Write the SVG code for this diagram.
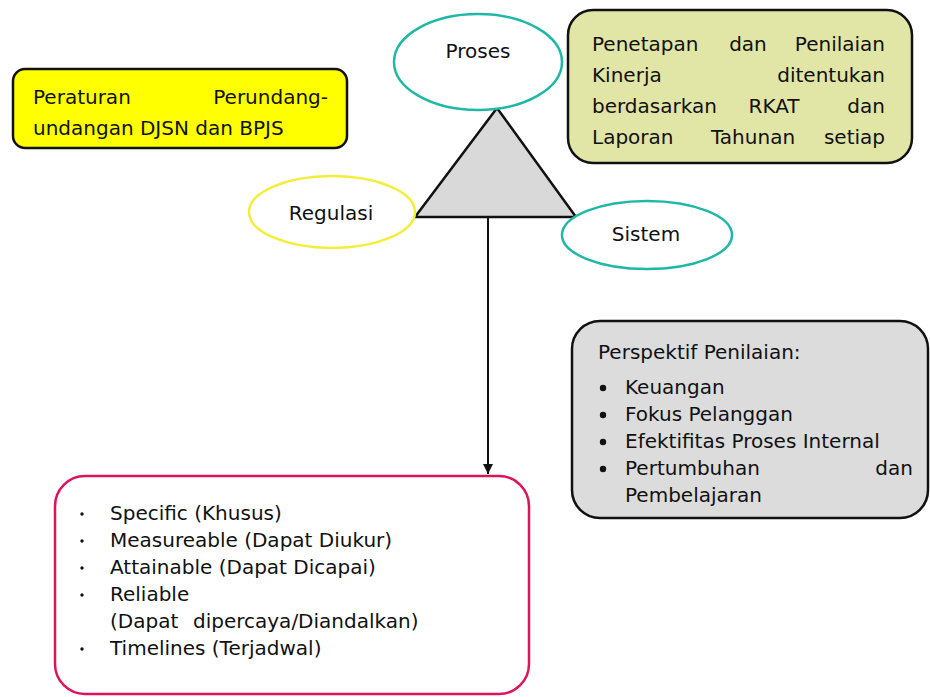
<svg xmlns="http://www.w3.org/2000/svg" width="930" height="697" viewBox="0 0 930 697">
<style>
  text { font-family: "DejaVu Sans", Verdana, sans-serif; font-size: 20px; fill: #111; }
  .box { stroke: #111; stroke-width: 2.5; }
  .ell { fill: #fff; stroke-width: 2.5; }
  .end { text-anchor: end; }
  .mid { text-anchor: middle; }
  .conn { stroke: #111; stroke-width: 2; fill: none; }
</style>
<defs>
  <marker id="arrow" markerWidth="12" markerHeight="12" refX="10" refY="5" orient="auto" markerUnits="userSpaceOnUse">
    <path d="M0,0 L10,5 L0,10 Z" fill="#111"/>
  </marker>
</defs>
<rect width="930" height="697" fill="#fff"/>

<g id="regulasi-box">
  <rect class="box" x="13" y="69" width="334" height="79" rx="12" fill="#FFFF00"/>
  <text x="33" y="104">Peraturan</text>
  <text class="end" x="328" y="104">Perundang-</text>
  <text x="33" y="135">undangan DJSN dan BPJS</text>
</g>

<g id="penetapan-box">
  <rect class="box" x="568" y="10" width="344" height="153" rx="25" fill="#E1E5A6"/>
  <text x="592" y="51">Penetapan</text>
  <text class="mid" x="748" y="51">dan</text>
  <text class="end" x="885" y="51">Penilaian</text>
  <text x="592" y="82">Kinerja</text>
  <text class="end" x="885" y="82">ditentukan</text>
  <text x="592" y="113">berdasarkan</text>
  <text class="mid" x="774" y="113">RKAT</text>
  <text class="end" x="885" y="113">dan</text>
  <text x="592" y="144">Laporan</text>
  <text class="mid" x="753" y="144">Tahunan</text>
  <text class="end" x="885" y="144">setiap</text>
</g>

<g id="triangle">
  <polygon points="497,108 415,217 576,217" fill="#D9D9D9" stroke="#111" stroke-width="2.5" stroke-linejoin="miter"/>
</g>

<g id="proses">
  <ellipse class="ell" cx="478" cy="62" rx="84" ry="48" stroke="#1FB8A6"/>
  <text class="mid" x="478" y="58">Proses</text>
</g>

<g id="regulasi">
  <ellipse class="ell" cx="332" cy="212" rx="83" ry="36" stroke="#F3EE3A"/>
  <text class="mid" x="331" y="220">Regulasi</text>
</g>

<g id="sistem">
  <ellipse class="ell" cx="647" cy="235" rx="85" ry="34" stroke="#1FB8A6"/>
  <text class="mid" x="646" y="241">Sistem</text>
</g>

<g id="perspektif-box">
  <rect class="box" x="572" y="321" width="356" height="197" rx="28" fill="#DCDCDC"/>
  <text x="598" y="359">Perspektif Penilaian:</text>
  <circle cx="603" cy="388" r="3.2" fill="#111"/>
  <text x="625" y="394">Keuangan</text>
  <circle cx="603" cy="415" r="3.2" fill="#111"/>
  <text x="625" y="421">Fokus Pelanggan</text>
  <circle cx="603" cy="442" r="3.2" fill="#111"/>
  <text x="625" y="448">Efektifitas Proses Internal</text>
  <circle cx="603" cy="469" r="3.2" fill="#111"/>
  <text x="625" y="475">Pertumbuhan</text>
  <text class="end" x="913" y="475">dan</text>
  <text x="625" y="502">Pembelajaran</text>
</g>

<g id="smart-box">
  <rect x="55" y="476" width="474" height="218" rx="30" fill="#fff" stroke="#DC145A" stroke-width="2.5"/>
  <circle cx="82" cy="514" r="1.7" fill="#111"/>
  <text x="110" y="520">Specific (Khusus)</text>
  <circle cx="82" cy="541" r="1.7" fill="#111"/>
  <text x="110" y="547">Measureable (Dapat Diukur)</text>
  <circle cx="82" cy="568" r="1.7" fill="#111"/>
  <text x="110" y="574">Attainable (Dapat Dicapai)</text>
  <circle cx="82" cy="595" r="1.7" fill="#111"/>
  <text x="110" y="601">Reliable</text>
  <text y="628"><tspan x="110">(Dapat</tspan><tspan x="193">dipercaya/Diandalkan)</tspan></text>
  <circle cx="82" cy="649" r="1.7" fill="#111"/>
  <text x="110" y="655">Timelines (Terjadwal)</text>
</g>

<g id="connectors">
  <line class="conn" x1="488" y1="217" x2="488" y2="474" marker-end="url(#arrow)"/>
</g>
</svg>
